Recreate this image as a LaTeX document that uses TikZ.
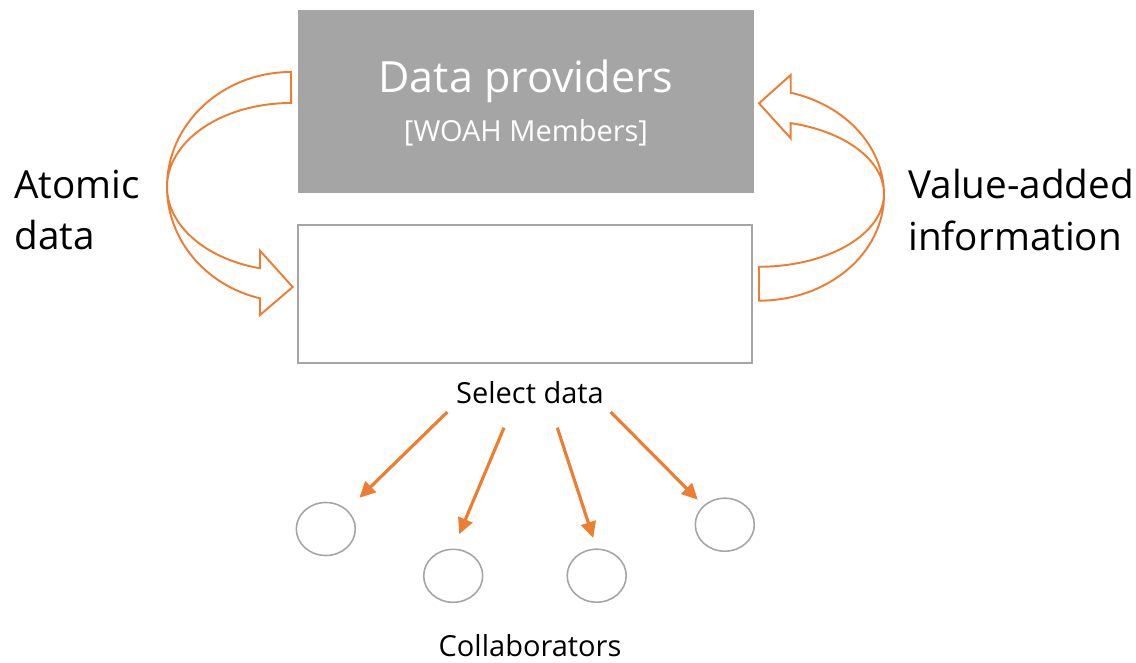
\documentclass[tikz,border=0pt]{standalone}
\usepackage{fontspec}
\setmainfont{Open Sans}
\usepackage{tikz}
\usetikzlibrary{arrows.meta,positioning,shapes.geometric}
\definecolor{boxgray}{HTML}{A5A5A5}
\definecolor{flow}{HTML}{ED7D31}
\tikzset{
  panel/.style={draw=boxgray,line width=0.9pt,minimum width=9.08cm,minimum height=2.76cm,inner sep=0pt},
  member/.style={ellipse,draw=boxgray,line width=0.9pt,minimum width=1.18cm,minimum height=1.06cm,inner sep=0pt},
  pick/.style={-{Triangle[length=0.32cm,width=0.3cm]},line width=1.8pt,draw=flow},
  looparrow/.style={draw=flow,line width=1.1pt,line join=miter}
}

\begin{document}
\begin{tikzpicture}[
  bigtext/.style={font=\fontsize{24.5}{28}\selectfont,text=white,inner sep=0pt},
  subtext/.style={font=\fontsize{16.5}{20}\selectfont,text=white,inner sep=0pt},
  sidetext/.style={font=\fontsize{22}{29.5}\selectfont,align=left,anchor=west,inner sep=0pt},
  smalltext/.style={font=\fontsize{16.5}{19}\selectfont,inner sep=0pt}
]
  \useasboundingbox (0,0) rectangle (22.72,13.24);

  % providers on top, the collected data below
  \node[panel,fill=boxgray,draw=none,minimum width=9.12cm,minimum height=3.66cm] (providers) at (10.52,11.21) {};
  \node[bigtext] (provname) at (10.52,11.62) {Data providers};
  \node[subtext] (provsub) at (10.52,10.58) {[WOAH Members]};
  \node[panel] (store) at (10.50,7.36) {};

  \node[sidetext] (atomic) at (0.28,9.04) {Atomic\\data};
  \node[sidetext] (value) at (18.16,9.04) {Value-added\\information};

  % block arrows round the two boxes
  \draw[looparrow] (5.82,11.8) arc[start angle=90,end angle=255.5,x radius=2.48,y radius=2.3]
    -- (5.2,6.94) -- (5.854,7.5) -- (5.2,8.226) -- (5.2,7.874)
    arc[start angle=255.5,end angle=90,x radius=2.48,y radius=1.68] -- cycle;
  \draw[looparrow] (15.18,7.226) arc[start angle=-90,end angle=75.3,x radius=2.5,y radius=2.114]
    -- (15.814,11.74) -- (15.18,11.174) -- (15.814,10.474) -- (15.814,10.777)
    arc[start angle=75.3,end angle=-90,x radius=2.5,y radius=1.46] -- cycle;

  \node[smalltext] (select) at (10.6,5.38) {Select data};

  \node[member] (m1) at (6.516,2.66) {};
  \node[member] (m2) at (9.064,1.724) {};
  \node[member] (m3) at (11.934,1.726) {};
  \node[member] (m4) at (14.496,2.746) {};

  \coordinate (s1) at (8.946,5.0);
  \coordinate (s2) at (10.08,4.686);
  \coordinate (s3) at (11.146,4.686);
  \coordinate (s4) at (12.214,5.0);
  \draw[pick,shorten >=0.34cm] (s1) -- (m1.north east);
  \draw[pick,shorten >=0.31cm] (s2) -- (m2.north);
  \draw[pick,shorten >=0.22cm] (s3) -- (m3.north);
  \draw[pick,shorten >=0.16cm] (s4) -- (m4.north west);

  \node[smalltext] (collab) at (10.6,0.32) {Collaborators};
\end{tikzpicture}
\end{document}
